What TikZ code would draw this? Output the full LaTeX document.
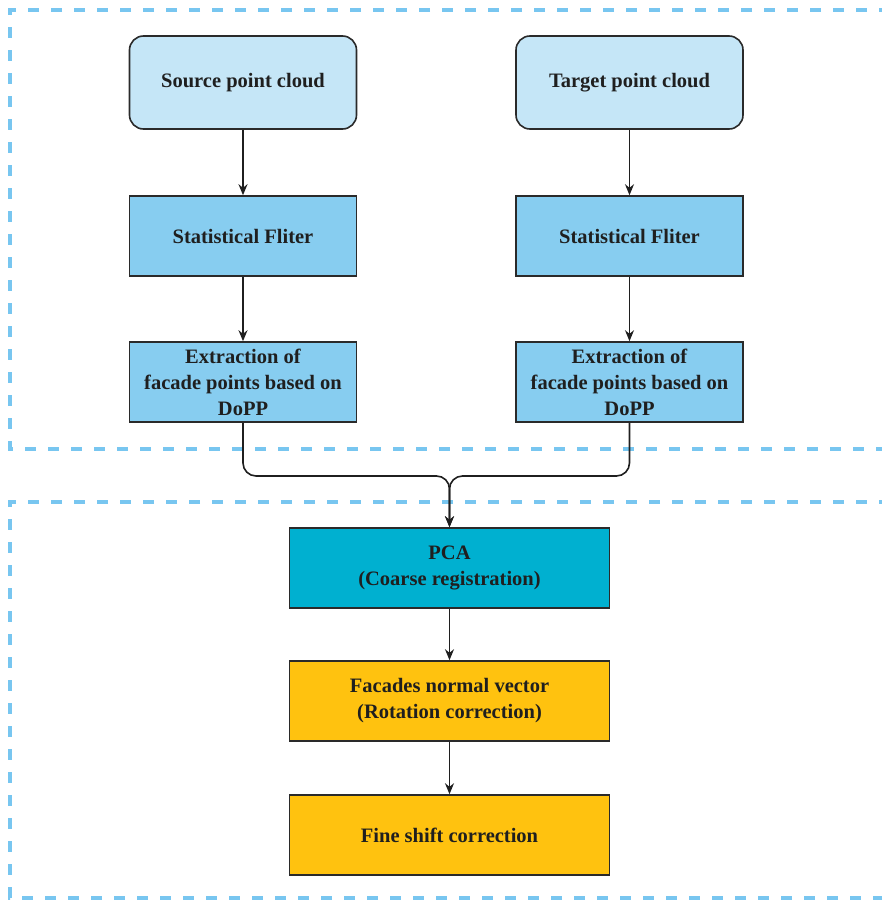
\documentclass[tikz,border=0pt]{standalone}
\usepackage{fontspec}
\setmainfont{Liberation Serif}[BoldFont={Liberation Serif Bold}]
\usetikzlibrary{arrows.meta}
\definecolor{dashblue}{HTML}{78C6F0}
\definecolor{lightblue}{HTML}{C5E6F7}
\definecolor{skyblue}{HTML}{87CDF0}
\definecolor{teal}{HTML}{00B0D0}
\definecolor{amber}{HTML}{FFC20F}
\definecolor{edge}{HTML}{2A2A2A}
\tikzset{
  x=1pt, y=-1pt,
  box/.style={draw=edge, line width=1.6pt, minimum width=227pt, minimum height=80pt,
    align=center, inner sep=0pt, font=\fontsize{20.5}{26}\selectfont\bfseries, text=black!88},
  startbox/.style={box, rounded corners=14pt, fill=lightblue, minimum height=93pt},
  filterbox/.style={box, fill=skyblue},
  widebox/.style={box, minimum width=320pt},
  frame/.style={dashblue, line width=3.5pt, dash pattern=on 11pt off 12pt},
  arr/.style={-{Stealth[length=11pt,width=9pt]}, line width=1.6pt, black!88},
}
\begin{document}
\begin{tikzpicture}
\useasboundingbox (0,0) rectangle (882,900);
\begin{scope}
\clip (0,0) rectangle (882,900);
\draw[frame] (890,10) -- (10,10) -- (10,449) -- (890,449);
\draw[frame] (890,502) -- (10,502) -- (10,898) -- (890,898);
\end{scope}
\node[startbox] (src) at (243,82.5) {Source point cloud};
\node[startbox] (tgt) at (629.5,82.5) {Target point cloud};
\node[filterbox] (sf1) at (243,236) {Statistical Fliter};
\node[filterbox] (sf2) at (629.5,236) {Statistical Fliter};
\node[filterbox] (ex1) at (243,382) {Extraction of\\facade points based on\\DoPP};
\node[filterbox] (ex2) at (629.5,382) {Extraction of\\facade points based on\\DoPP};
\node[widebox, fill=teal] (pca) at (449.5,568) {PCA\\(Coarse registration)};
\node[widebox, fill=amber] (fnv) at (449.5,701) {Facades normal vector\\(Rotation correction)};
\node[widebox, fill=amber] (fsc) at (449.5,835) {Fine shift correction};
\coordinate (m) at (449.5,476);
\draw[arr] (src) -- (sf1);
\draw[arr] (tgt) -- (sf2);
\draw[arr] (sf1) -- (ex1);
\draw[arr] (sf2) -- (ex2);
\draw[arr, rounded corners=13pt] (ex1.south) |- (m) -- (pca.north);
\draw[arr, rounded corners=13pt] (ex2.south) |- (m) -- (pca.north);
\draw[arr] (pca) -- (fnv);
\draw[arr] (fnv) -- (fsc);
\end{tikzpicture}
\end{document}
